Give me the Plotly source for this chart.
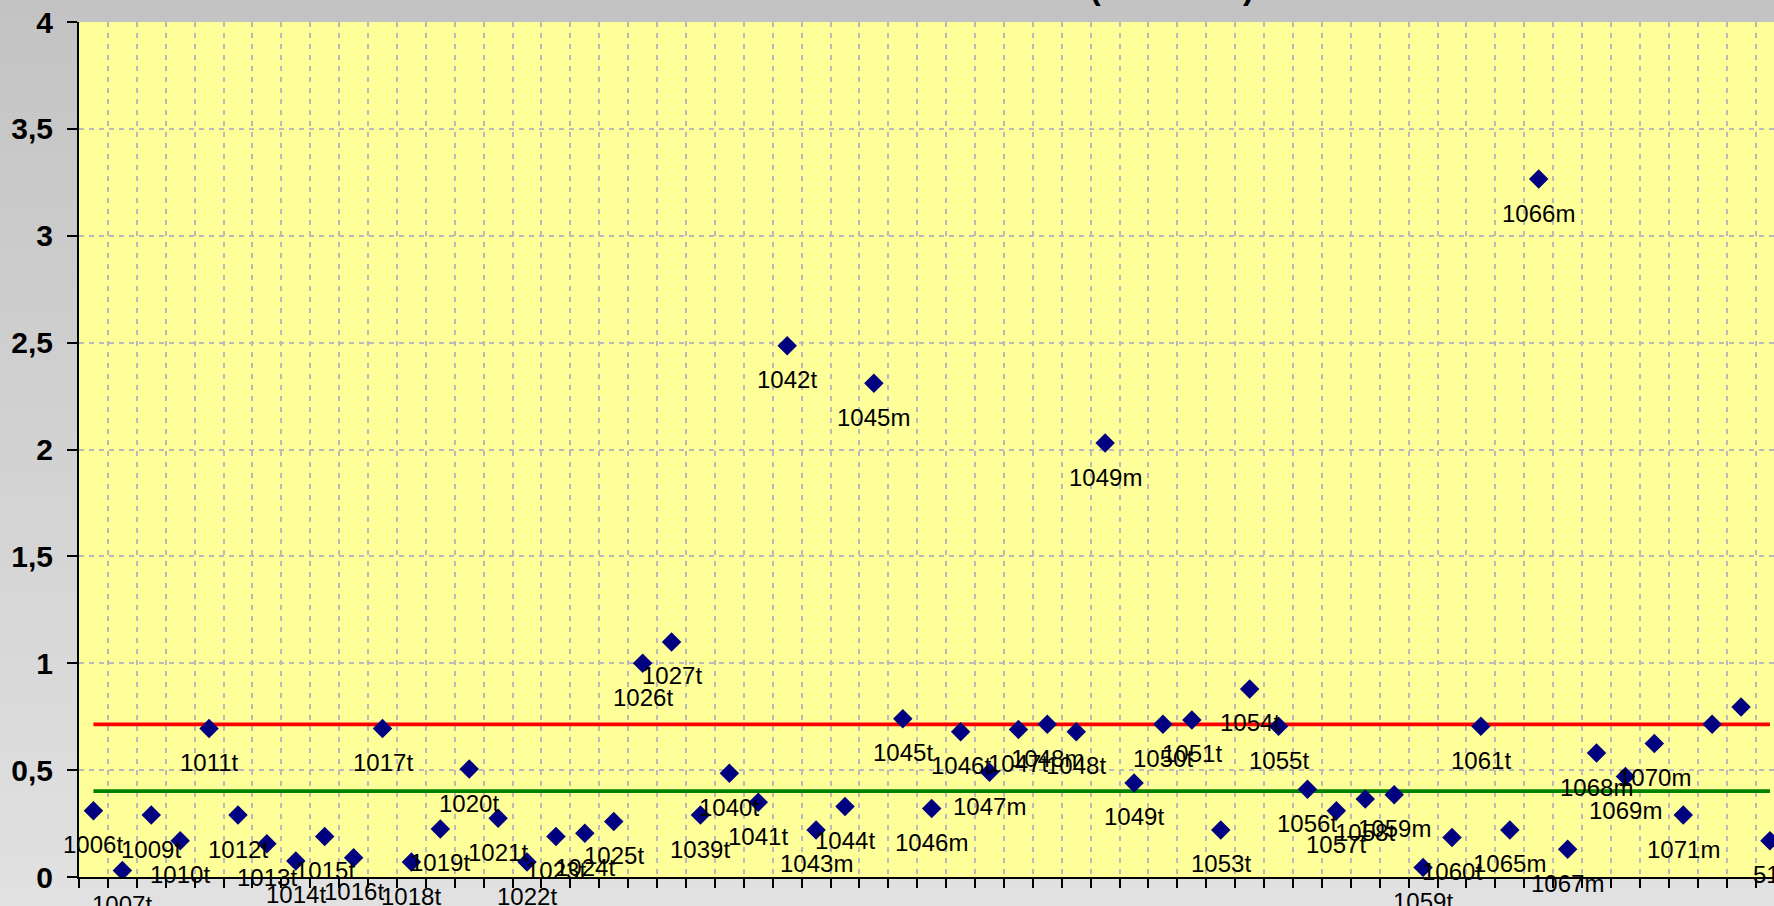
import plotly.graph_objects as go

# sample ids (category axis) and measured values
samples = ["1006t", "1007t", "1009t", "1010t", "1011t", "1012t", "1013t", "1014t",
           "1015t", "1016t", "1017t", "1018t", "1019t", "1020t", "1021t", "1022t",
           "1023t", "1024t", "1025t", "1026t", "1027t", "1039t", "1040t", "1041t",
           "1042t", "1043m", "1044t", "1045m", "1045t", "1046m", "1046t", "1047m",
           "1047t", "1048m", "1048t", "1049m", "1049t", "1050t", "1051t", "1053t",
           "1054t", "1055t", "1056t", "1057t", "1058t", "1059m", "1059t", "1060t",
           "1061t", "1065m", "1066m", "1067m", "1068m", "1069m", "1070m", "1071m",
           "151", "354", "51t"]
values = [0.31, 0.03, 0.29, 0.17, 0.695, 0.29, 0.155, 0.075,
          0.19, 0.09, 0.695, 0.07, 0.225, 0.505, 0.275, 0.07,
          0.19, 0.205, 0.26, 1.0, 1.10, 0.29, 0.485, 0.35,
          2.485, 0.22, 0.33, 2.31, 0.74, 0.32, 0.68, 0.49,
          0.69, 0.715, 0.68, 2.03, 0.44, 0.715, 0.735, 0.22,
          0.88, 0.705, 0.41, 0.31, 0.365, 0.385, 0.045, 0.185,
          0.705, 0.22, 3.265, 0.13, 0.58, 0.47, 0.625, 0.29,
          0.715, 0.795, 0.17]
mean_value = 0.714
median_value = 0.402

FONT = "Arial, Liberation Sans, sans-serif"
W, H = 1774, 906
M_L, M_R, M_T, M_B = 79, 0, 22, 29
plot_h = H - M_T - M_B

fig = go.Figure()

fig.add_trace(go.Scatter(x=samples, y=[mean_value] * len(samples), mode="lines",
                         line=dict(color="#ff0000", width=3.8), hoverinfo="skip"))
fig.add_trace(go.Scatter(x=samples, y=[median_value] * len(samples), mode="lines",
                         line=dict(color="#008000", width=3.8), hoverinfo="skip"))
fig.add_trace(go.Scatter(x=samples, y=values, mode="markers",
                         marker=dict(symbol="diamond", size=15, color="#000080",
                                     line=dict(width=0))))

annotations = [dict(x=s, y=v, xref="x", yref="y", text=s, showarrow=False,
                    yshift=-34, font=dict(family=FONT, size=24, color="black"))
               for s, v in zip(samples, values)]

# title is cut off at the top of the picture, only the parentheses show
annotations.append(dict(x=0.645, y=1, xref="paper", yref="paper", yanchor="bottom",
                        yshift=14, showarrow=False,
                        text="(" + "\u00a0" * 16 + ")",
                        font=dict(family=FONT, size=32, color="black", weight="bold")))

# grey gradient for the chart area outside the plot
shapes = []
n = 40
for i in range(n):
    top_px = H * i / n
    bot_px = H * (i + 1) / n
    g = int(round(195 + 30 * (i + 0.5) / n))
    col = f"rgb({g},{g},{g})"
    y0 = (H - M_B - bot_px) / plot_h
    y1 = (H - M_B - top_px) / plot_h
    shapes.append(dict(type="rect", xref="paper", yref="paper", x0=-0.1, x1=0,
                       y0=y0, y1=y1, fillcolor=col, line=dict(width=0), layer="below"))
    if y1 > 1:
        shapes.append(dict(type="rect", xref="paper", yref="paper", x0=0, x1=1.1,
                           y0=max(y0, 1), y1=y1, fillcolor=col, line=dict(width=0),
                           layer="below"))
    if y0 < 0:
        shapes.append(dict(type="rect", xref="paper", yref="paper", x0=0, x1=1.1,
                           y0=y0, y1=min(y1, 0), fillcolor=col, line=dict(width=0),
                           layer="below"))

fig.update_layout(
    width=W, height=H,
    margin=dict(l=M_L, r=M_R, t=M_T, b=M_B, pad=0),
    paper_bgcolor="#d2d2d2",
    plot_bgcolor="#ffff99",
    showlegend=False,
    separators=",.",
    annotations=annotations,
    shapes=shapes,
    xaxis=dict(type="category", range=[-0.5, 58.14], tickson="boundaries",
               showticklabels=False, ticks="outside", ticklen=9, tickwidth=2,
               tickcolor="black", showline=True, linecolor="black", linewidth=2,
               showgrid=True, gridcolor="#bababa", gridwidth=2, griddash="5px,6px",
               zeroline=False, fixedrange=True),
    yaxis=dict(range=[0, 4], dtick=0.5, tick0=0, ticks="outside", ticklen=10,
               tickwidth=2, tickcolor="black", showline=True, linecolor="black",
               linewidth=2, showgrid=True, gridcolor="#bababa", gridwidth=2,
               griddash="5px,5px", zeroline=False, ticklabelstandoff=8,
               tickfont=dict(family=FONT, size=30, color="black", weight="bold"),
               fixedrange=True),
)

fig.write_html("out.html", config={"displayModeBar": False},
               post_script="document.body.style.margin='0';"
                           "document.body.style.overflow='hidden';")
